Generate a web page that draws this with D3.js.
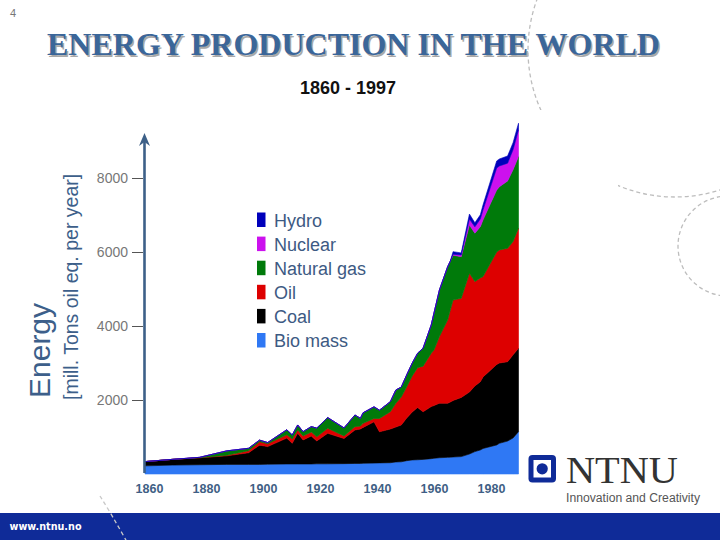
<!DOCTYPE html>
<html>
<head>
<meta charset="utf-8">
<script src="https://cdn.jsdelivr.net/npm/d3@7"></script>
<style>
  html, body { margin: 0; padding: 0; background: #fff; }
  svg { display: block; }
</style>
</head>
<body>
<svg id="chart" width="720" height="540"></svg>
<script>
// ---------------- DATA ----------------
const years   = [1860,1870,1880,1890,1898,1902,1905,1912,1914,1916,1918,1921,1923,1927,1933,1937,1939,1940,1944,1946,1950,1952,1954,1956,1958,1960,1962,1965,1966,1968,1971,1972,1973,1976,1979,1981,1983,1984,1989,1990,1993,1995,1997];
const bioMass = [220,240,250,260,260,260,265,270,270,270,270,270,275,275,280,285,285,290,295,300,305,325,330,360,380,385,395,415,425,440,450,455,460,470,540,605,650,690,785,830,890,975,1145];
const coal    = [115,155,190,230,315,520,475,700,560,830,650,755,620,825,680,905,930,970,1115,840,910,945,995,1155,1295,1410,1285,1410,1425,1475,1460,1490,1525,1600,1675,1775,1845,1935,2175,2170,2145,2245,2255];
const oil     = [0,0,0,15,55,90,75,90,115,90,110,110,110,135,70,90,80,110,90,360,470,640,755,840,975,1080,1235,1440,1500,1800,2250,2485,2715,2680,3210,2820,2805,2710,3040,3055,3065,3065,3245];
const naturalGas = [0,0,10,120,65,45,35,135,110,135,115,145,235,290,215,315,210,285,315,225,270,360,270,325,345,390,485,765,1000,1260,1440,1325,1215,1125,1305,1310,1385,1535,1675,1710,1820,1940,1935];
const nuclear = [0,0,0,0,0,0,0,0,0,0,0,0,0,0,0,0,0,0,0,0,0,0,0,0,0,0,0,0,0,0,0,0,25,45,160,170,210,270,595,560,480,540,720];
const hydro   = [0,0,0,0,0,0,0,0,0,0,0,0,0,0,0,0,0,0,0,0,0,0,0,0,0,0,0,0,0,0,0,0,70,55,135,110,110,135,190,190,195,190,180];

const seriesKeys   = ["Bio mass","Coal","Oil","Natural gas","Nuclear","Hydro"];
const seriesColors = ["#2f78f4","#000000","#dd0000","#007a0a","#cc11ee","#0000bb"];
const legendOrder  = ["Hydro","Nuclear","Natural gas","Oil","Coal","Bio mass"];
const yTicks = [2000,4000,6000,8000];
const xTickLabels = [1860,1880,1900,1920,1940,1960,1980];

// ---------------- BUILD ----------------
const svg = d3.select("#chart");
const colorOf = d3.scaleOrdinal().domain(seriesKeys).range(seriesColors);

const rows = years.map((yr,i) => ({
  year: yr,
  "Bio mass": bioMass[i], "Coal": coal[i], "Oil": oil[i],
  "Natural gas": naturalGas[i], "Nuclear": nuclear[i], "Hydro": hydro[i]
}));

const x = d3.scaleLinear().domain([1860,1997]).range([145,518.5]);
const y = d3.scaleLinear().domain([0,10000]).range([474,104]);
// tick labels of the slide are placed on their own, slightly offset, scale
const xLab = d3.scaleLinear().domain([1860,1980]).range([149,491]);

// decorative dashed arcs
const deco = svg.append("g").attr("fill","none").attr("stroke","#bdbdbd")
  .attr("stroke-width",1.3).attr("stroke-dasharray","4,3");
deco.append("circle").attr("cx",675).attr("cy",50).attr("r",147);
deco.append("circle").attr("cx",728).attr("cy",246).attr("r",50);

// white panel of the chart picture (hides the arcs behind it)
svg.append("rect").attr("x",85).attr("y",110).attr("width",533).attr("height",387).attr("fill","#fff");

// page number
svg.append("text").attr("x",10).attr("y",17).text("4")
  .attr("font-family","Liberation Sans, Arial, sans-serif").attr("font-size",11).attr("fill","#777");

// title with shadow
const titleTxt = "ENERGY PRODUCTION IN THE WORLD";
svg.append("text").attr("x",48.5).attr("y",56.5).text(titleTxt)
  .attr("font-family","Liberation Serif, 'Times New Roman', serif").attr("font-weight","bold")
  .attr("font-size",31).attr("fill","#a9a9a9")
  .attr("textLength",613).attr("lengthAdjust","spacingAndGlyphs");
svg.append("text").attr("x",47).attr("y",55).text(titleTxt)
  .attr("font-family","Liberation Serif, 'Times New Roman', serif").attr("font-weight","bold")
  .attr("font-size",31).attr("fill","#3b6699")
  .attr("textLength",613).attr("lengthAdjust","spacingAndGlyphs");

// subtitle
svg.append("text").attr("x",348).attr("y",94).attr("text-anchor","middle").text("1860 - 1997")
  .attr("font-family","Liberation Sans, Arial, sans-serif").attr("font-weight","bold")
  .attr("font-size",18).attr("fill","#111")
  .attr("textLength",96).attr("lengthAdjust","spacingAndGlyphs");

// stacked areas
const stack = d3.stack().keys(seriesKeys);
const layers = stack(rows);
const area = d3.area()
  .x(d => x(d.data.year))
  .y0(d => y(d[0]))
  .y1(d => y(d[1]));
svg.append("g").selectAll("path").data(layers).join("path")
  .attr("d", area)
  .attr("fill", d => colorOf(d.key))
  .attr("stroke", d => colorOf(d.key))
  .attr("stroke-width", 0.6)
  .attr("stroke-linejoin","round");

// y axis
const yAxis = svg.append("g").attr("transform","translate(143,0)")
  .call(d3.axisLeft(y).tickValues(yTicks).tickSize(11).tickPadding(4).tickFormat(d3.format("d")));
yAxis.select(".domain").remove();
yAxis.selectAll(".tick line").attr("stroke","#555").attr("stroke-width",1);
yAxis.selectAll(".tick text").attr("fill","#777").attr("font-size",14)
  .attr("font-family","Liberation Sans, Arial, sans-serif");

// axis line with arrow
svg.append("line").attr("x1",144.5).attr("x2",144.5).attr("y1",y(0)-1).attr("y2",140)
  .attr("stroke","#3d6088").attr("stroke-width",2.6);
svg.append("path").attr("d","M144.5,133 L150,146 L144.5,142 L139,146 Z").attr("fill","#3d6088");

// x labels
const xAxis = svg.append("g").attr("transform","translate(0,481)")
  .call(d3.axisBottom(xLab).tickValues(xTickLabels).tickSize(0).tickPadding(3).tickFormat(d3.format("d")));
xAxis.select(".domain").remove();
xAxis.selectAll(".tick text").attr("fill","#3f5f85").attr("font-size",12.5).attr("font-weight","bold")
  .attr("font-family","Liberation Sans, Arial, sans-serif");

// y titles
svg.append("text").attr("transform","translate(50,398) rotate(-90)").text("Energy")
  .attr("font-family","Liberation Sans, Arial, sans-serif").attr("font-size",30).attr("fill","#3d5f8a");
svg.append("text").attr("transform","translate(77.5,400) rotate(-90)").text("[mill. Tons oil eq. per year]")
  .attr("font-family","Liberation Sans, Arial, sans-serif").attr("font-size",19.5).attr("fill","#3d5f8a");

// legend
const lg = svg.append("g").selectAll("g").data(legendOrder).join("g")
  .attr("transform",(d,i) => `translate(257,${212.5 + i*24.1})`);
lg.append("rect").attr("width",8.5).attr("height",14.5).attr("fill", d => colorOf(d));
lg.append("text").attr("x",17).attr("y",14.3).text(d => d)
  .attr("font-family","Liberation Sans, Arial, sans-serif").attr("font-size",18).attr("fill","#3d5a83");

// NTNU logo
svg.append("rect").attr("x",528.5).attr("y",455).attr("width",27.5).attr("height",27.5).attr("rx",4).attr("fill","#0f2b98");
svg.append("rect").attr("x",533.5).attr("y",460).attr("width",17.5).attr("height",17.5).attr("fill","#fff");
svg.append("circle").attr("cx",542.2).attr("cy",468.8).attr("r",5.6).attr("fill","#0f2b98");
svg.append("text").attr("x",566).attr("y",483).text("NTNU")
  .attr("font-family","Liberation Serif, 'Times New Roman', serif").attr("font-size",38).attr("fill","#333")
  .attr("textLength",112).attr("lengthAdjust","spacingAndGlyphs");
svg.append("text").attr("x",566).attr("y",502).text("Innovation and Creativity")
  .attr("font-family","Liberation Sans, Arial, sans-serif").attr("font-size",12).attr("fill","#555")
  .attr("textLength",134).attr("lengthAdjust","spacingAndGlyphs");

// footer
svg.append("rect").attr("x",0).attr("y",513).attr("width",720).attr("height",27).attr("fill","#0f2b98");
svg.append("text").attr("x",9.5).attr("y",530).text("www.ntnu.no")
  .attr("font-family","DejaVu Sans, Verdana, sans-serif").attr("font-weight","bold")
  .attr("font-size",10).attr("fill","#fff")
  .attr("textLength",72).attr("lengthAdjust","spacingAndGlyphs");
svg.append("path").attr("d","M100,496 Q112,515 127,542").attr("fill","none")
  .attr("stroke","#c8c8c8").attr("stroke-width",1.3).attr("stroke-dasharray","4,3");
</script>
</body>
</html>
